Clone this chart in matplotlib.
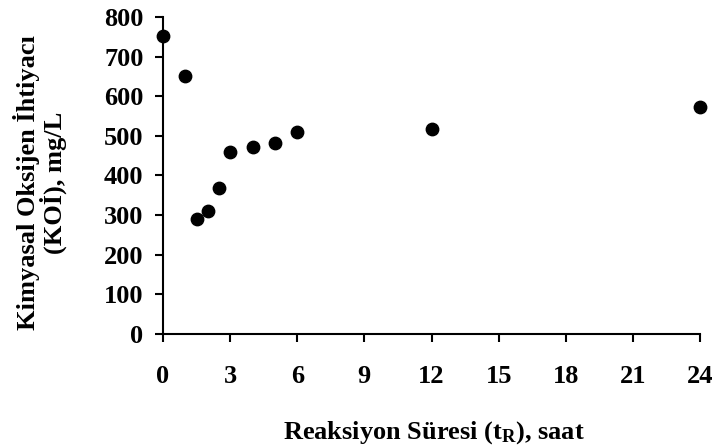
import matplotlib
matplotlib.use("Agg")
import matplotlib.pyplot as plt

plt.rcParams['font.family'] = ['Liberation Serif', 'DejaVu Serif']
plt.rcParams['font.weight'] = 'bold'
plt.rcParams['mathtext.fontset'] = 'custom'
plt.rcParams['mathtext.rm'] = 'Liberation Serif:bold'
plt.rcParams['mathtext.it'] = 'Liberation Serif:bold'
plt.rcParams['mathtext.bf'] = 'Liberation Serif:bold'

time_h = [0, 1, 1.5, 2, 2.5, 3, 4, 5, 6, 12, 24]
cod_mgL = [753, 651, 290, 310, 369, 460, 471, 481, 511, 517, 573]
x_ticks = [0, 3, 6, 9, 12, 15, 18, 21, 24]
y_ticks = [0, 100, 200, 300, 400, 500, 600, 700, 800]

fig = plt.figure(figsize=(7.13, 4.48), dpi=100)
ax = fig.add_axes([163/713, 1-334/448, (700-163)/713, (334-17)/448])
ax.scatter(time_h, cod_mgL, s=80, color='black', zorder=3, clip_on=False)
ax.set_xlim(0, 24)
ax.set_ylim(0, 800)
ax.set_xticks(x_ticks)
ax.set_yticks(y_ticks)
for s in ['top', 'right']:
    ax.spines[s].set_visible(False)
for s in ['left', 'bottom']:
    ax.spines[s].set_linewidth(1.5)
ax.tick_params(axis='both', direction='out', length=6, width=1.5, labelsize=19)
ax.tick_params(axis='x', pad=16)
ax.tick_params(axis='y', pad=8)
for lbl in ax.get_xticklabels() + ax.get_yticklabels():
    lbl.set_fontweight('bold')

fig.text(40/713, 1-183/448, 'Kimyasal Oksijen İhtiyacı\n(KOİ), mg/L', rotation=90,
         ha='center', va='center', multialignment='center', fontsize=19, fontweight='bold',
         linespacing=1.0)
fig.text(434/713, 1-433/448, r'Reaksiyon Süresi ($\mathrm{t_R}$), saat', ha='center', va='center',
         fontsize=19, fontweight='bold')

fig.savefig('out.png', dpi=100)
